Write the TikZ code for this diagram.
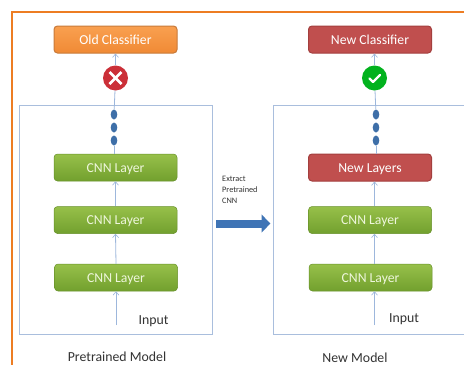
\documentclass[tikz,border=0pt]{standalone}
\usepackage{fontspec}
\setmainfont{Carlito}
\usetikzlibrary{arrows.meta,shapes.geometric}
\definecolor{outerorange}{RGB}{237,125,35}
\definecolor{panelc}{HTML}{A9BEDD}
\definecolor{linkc}{HTML}{9DB7DC}
\definecolor{dotc}{HTML}{3E6FA8}
\definecolor{bigblue}{HTML}{3F74B5}
\definecolor{oldtop}{HTML}{F9A050}
\definecolor{oldbot}{HTML}{F08A35}
\definecolor{oldline}{HTML}{C87A3A}
\definecolor{newfill}{HTML}{C04F4E}
\definecolor{newline}{HTML}{A33F3E}
\definecolor{cnntop}{HTML}{97C04A}
\definecolor{cnnbot}{HTML}{72A02E}
\definecolor{txtc}{HTML}{333333}
\definecolor{badred}{HTML}{CB2F38}
\definecolor{goodgreen}{HTML}{02B21E}
\definecolor{softwhite}{HTML}{EEF6DC}
\tikzset{
  x=1pt,y=-1pt,
  panelbox/.style={draw=panelc,line width=.9pt,fill=white,minimum width=#1,minimum height=229pt,inner sep=0pt},
  layerbox/.style={rounded corners=3.5pt,minimum width=123pt,minimum height=27pt,inner sep=0pt,
    text height=9.5pt,text depth=0pt,font=\fontsize{13.7}{15}\selectfont},
  cnnbox/.style={layerbox,top color=cnntop,bottom color=cnnbot,draw=cnnbot!90!black,line width=.5pt,text=softwhite},
  oldbox/.style={layerbox,top color=oldtop,bottom color=oldbot,draw=oldline,line width=1pt,text=white},
  newbox/.style={layerbox,fill=newfill,draw=newline,line width=1pt,text=white},
  link/.style={draw=linkc,line width=.8pt,-{Straight Barb[length=3.5pt,width=6pt,line width=.6pt]}},
  plainlink/.style={draw=linkc,line width=.8pt},
  blob/.style={ellipse,fill=dotc,minimum width=6.6pt,minimum height=10pt,inner sep=0pt},
  badge/.style={circle,minimum size=25pt,inner sep=0pt},
  caption/.style={text=txtc,font=\fontsize{13.8}{15}\selectfont,inner sep=0pt},
  smalltext/.style={text=txtc,font=\fontsize{8.3}{11}\selectfont,align=left,inner sep=0pt},
}
\begin{document}
\begin{tikzpicture}
\useasboundingbox (0,0) rectangle (464,365);
\fill[white] (0,0) rectangle (464,365);
% frame
\fill[outerorange] (10.5,10.5) rectangle (464,12.5);
\fill[outerorange] (10.5,10.5) rectangle (12.5,365);
% panels
\node[panelbox=193pt] (pl) at (115.5,219.5) {};
\node[panelbox=200pt] (pr) at (373,219.5) {};
% left column
\node[oldbox] (oc) at (115.5,39.5) {Old Classifier};
\node[cnnbox] (l3) at (115.5,167.5) {CNN Layer};
\node[cnnbox] (l2) at (115.5,220) {CNN Layer};
\node[cnnbox] (l1) at (116,277.5) {CNN Layer};
\coordinate (il) at (116,325);
\node[blob] (d1) at (114,114.5) {};
\node[blob] (d2) at (114,127.5) {};
\node[blob] (d3) at (114,140.5) {};
\draw[plainlink] (l3.north -| d3) -- (d3);
\draw[link] (il) -- (l1.south);
\draw[link] (l1.north) -- (l2.south);
\draw[link] (l2.north) -- (l3.south);
\node[badge,fill=badred] (xc) at (115.5,78) {};
\draw[plainlink] (d1) -- (xc);
\draw[link] (xc) -- (oc.south);
\draw[white,line width=2.6pt] ([shift={(-6,-6)}]xc.center) -- ([shift={(6,6)}]xc.center);
\draw[white,line width=2.6pt] ([shift={(-6,6)}]xc.center) -- ([shift={(6,-6)}]xc.center);
\node[caption] at (153.5,321) {Input};
\node[caption] at (117,356.5) {Pretrained Model};
% right column
\node[newbox] (nc) at (370,39.5) {New Classifier};
\node[newbox] (nl) at (370,167.5) {New Layers};
\node[cnnbox] (r2) at (370,220) {CNN Layer};
\node[cnnbox] (r1) at (370.5,277.5) {CNN Layer};
\coordinate (ir) at (374.5,325);
\node[blob] (e1) at (376,114.5) {};
\node[blob] (e2) at (376,127.5) {};
\node[blob] (e3) at (376,140.5) {};
\draw[plainlink] (nl.north -| e3) -- (e3);
\draw[link] (ir) -- (r1.south -| ir);
\draw[link] (r1.north -| ir) -- (r2.south -| ir);
\draw[link] (r2.north -| ir) -- (nl.south -| ir);
\node[badge,fill=goodgreen] (cc) at (374.5,78) {};
\draw[plainlink] (e1) -- (cc);
\draw[link] (cc) -- (nc.south -| cc);
\draw[white,line width=2.4pt,line cap=round,line join=round]
  ([shift={(-5,0.5)}]cc.center) -- ([shift={(-1.5,4)}]cc.center) -- ([shift={(5.5,-3)}]cc.center);
\node[caption] at (404,319) {Input};
\node[caption] at (355,357.5) {New Model};
% transfer
\node[smalltext,anchor=north west] at (222,176) {Extract\\Pretrained\\CNN};
\coordinate (ba) at (216,223.5);
\coordinate (bb) at (270.5,223.5);
\draw[bigblue,line width=8pt,-{Triangle[length=9pt,width=17.5pt]}] (ba) -- (bb);
\end{tikzpicture}
\end{document}
